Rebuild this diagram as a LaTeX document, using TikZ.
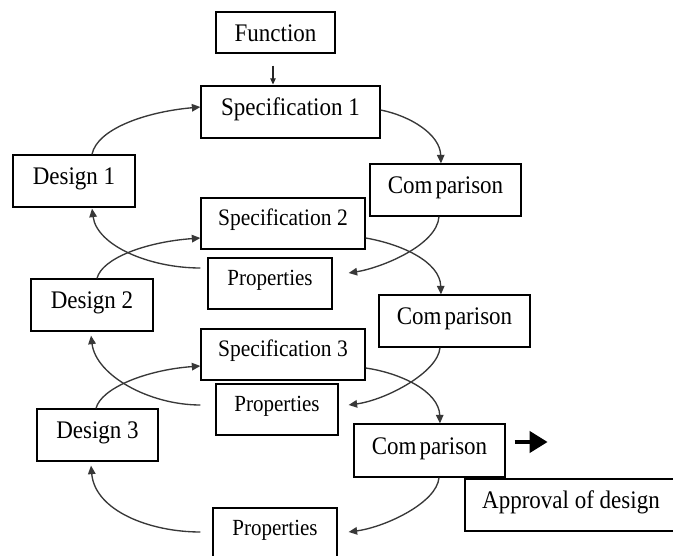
\documentclass[tikz,border=0pt]{standalone}
\usepackage{fontspec}
\setmainfont{Liberation Serif}
\usetikzlibrary{arrows.meta,calc}
\newcommand{\tallt}[1]{\scalebox{1}[1.1]{#1}}
\begin{document}
\begin{tikzpicture}[x=1pt,y=-1pt,
  box/.style={draw=black, line width=1.25pt, rectangle, inner sep=0pt,
    text height=17pt, text depth=10pt, font=\fontsize{23}{27}\selectfont,
    minimum height=52pt},
  propbox/.style={box, text height=16pt, text depth=12pt, font=\fontsize{21}{25}\selectfont},
  specbox/.style={box, text height=16pt, text depth=11pt, font=\fontsize{21.5}{25}\selectfont},
  conn/.style={draw=black!78, line width=1.35pt, -{Triangle[length=8.5pt,width=7.5pt]}},
]
\useasboundingbox (0,0) rectangle (673,556);
% nodes
\node[box, minimum width=119pt, minimum height=41pt, text height=19pt, text depth=0pt] (func) at (275.5,32.5) {\tallt{Function}};
\node[box, minimum width=179pt] (spec1) at (290.5,112) {\tallt{Specification 1}};
\node[box, minimum width=122pt] (design1) at (74,181) {\tallt{Design 1}};
\node[box, minimum width=151pt] (comp1) at (445.5,190) {\tallt{Com\kern3pt parison}};
\node[specbox, minimum width=164pt, minimum height=51pt] (spec2) at (283,223.5) {\tallt{Specification 2}};
\node[propbox, minimum width=124pt, minimum height=51pt] (props1) at (270,283.5) {\tallt{Properties}};
\node[box, minimum width=122pt] (design2) at (92,305) {\tallt{Design 2}};
\node[box, minimum width=151pt] (comp2) at (454.5,321) {\tallt{Com\kern3pt parison}};
\node[specbox, minimum width=164pt, minimum height=51pt] (spec3) at (283,354.5) {\tallt{Specification 3}};
\node[propbox, minimum width=122pt, minimum height=51pt] (props2) at (277,409.5) {\tallt{Properties}};
\node[box, minimum width=121pt] (design3) at (97.5,435) {\tallt{Design 3}};
\node[box, minimum width=151pt, minimum height=53pt] (comp3) at (429.5,450.5) {\tallt{Com\kern3pt parison}};
\node[propbox, minimum width=124pt, minimum height=51pt] (props3) at (275,533.5) {\tallt{Properties}};
\node[box, minimum width=212pt] (approval) at (571,505) {\tallt{Approval of design}};

% function arrow
\draw[draw=black!85, line width=1.1pt, -{Triangle[length=6pt,width=5.5pt]}]
  ($(func.south)+(-2.5,12)$) -- ($(spec1.north)+(-17.5,-1)$);

% loop 1
\draw[conn] ($(design1.north)+(18,0)$) .. controls +(5,-25) and +(-56,5) .. ($(spec1.west)+(0,-5)$);
\draw[conn] ($(spec1.east)+(0,-2)$) .. controls +(30,6) and +(-1,-29) .. ($(comp1.north)+(-4.5,0)$);
\draw[conn] ($(comp1.south)+(-6.5,0)$) .. controls +(-2,29) and +(32,-5) .. ($(props1.east)+(16,-10.5)$);
\draw[conn] ($(props1.west)+(-7,-15.5)$) .. controls +(-51,0) and +(5,37) .. ($(design1.south)+(18,1)$);

% loop 2
\draw[conn] ($(design2.north)+(5,0)$) .. controls +(5,-20) and +(-55,4) .. ($(spec2.west)+(0,14.5)$);
\draw[conn] ($(spec2.east)+(0,14.5)$) .. controls +(35,6) and +(-1,-33) .. ($(comp2.north)+(-13.5,0)$);
\draw[conn] ($(comp2.south)+(-14.5,0)$) .. controls +(-2,25) and +(37,-5) .. ($(props2.east)+(10,-4.5)$);
\draw[conn] ($(props2.west)+(-15,-4.5)$) .. controls +(-51,0) and +(5,40) .. ($(design2.south)+(-1,4)$);

% loop 3
\draw[conn] ($(design3.north)+(-1.5,0)$) .. controls +(5,-20) and +(-55,4) .. ($(spec3.west)+(0,11.5)$);
\draw[conn] ($(spec3.east)+(0,13.5)$) .. controls +(35,5) and +(-1,-32) .. ($(comp3.north)+(10.5,0)$);
\draw[conn] ($(comp3.south)+(9.5,0)$) .. controls +(-2,25) and +(37,-5) .. ($(props3.east)+(11,-1.5)$);
\draw[conn] ($(props3.west)+(-12,-1.5)$) .. controls +(-51,0) and +(4,45) .. ($(design3.south)+(-6.5,4)$);

% big arrow
\coordinate (bigA) at ($(comp3.east)+(9,-8.5)$);
\coordinate (bigB) at ($(comp3.east)+(42,-8.5)$);
\draw[line width=4pt, -{Triangle[length=18pt,width=21pt]}] (bigA) -- (bigB);
\end{tikzpicture}
\end{document}
